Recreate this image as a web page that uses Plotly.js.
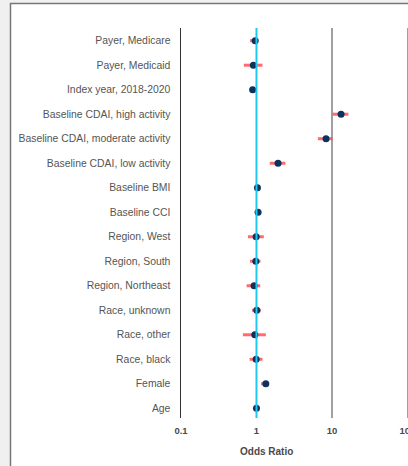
<!DOCTYPE html>
<html><head><meta charset="utf-8">
<script src="https://cdn.plot.ly/plotly-3.0.1.min.js"></script>
<style>html,body{margin:0;padding:0;background:#f0f0f0;overflow:hidden;}#chart{width:420px;height:466px;}</style>
</head><body><div id="chart"></div>
<script>
const labels = ["Payer, Medicare","Payer, Medicaid","Index year, 2018-2020","Baseline CDAI, high activity","Baseline CDAI, moderate activity","Baseline CDAI, low activity","Baseline BMI","Baseline CCI","Region, West","Region, South","Region, Northeast","Race, unknown","Race, other","Race, black","Female","Age"];
const oddsRatio = [0.96,0.91,0.89,13.2,8.35,1.93,1.03,1.05,0.99,0.98,0.93,1.01,0.95,0.99,1.33,1.00];
const ciLow  = [0.82,0.68,0.82,10.2,6.5,1.50,1.01,1.03,0.77,0.82,0.74,0.87,0.66,0.81,1.15,0.99];
const ciHigh = [1.06,1.20,0.93,16.5,10.2,2.42,1.05,1.07,1.25,1.13,1.12,1.14,1.33,1.20,1.41,1.01];
const tickVals = [0.1,1,10,100];
const tickText = ["0.1","1","10","100"];

const plus = oddsRatio.map((v,i)=>ciHigh[i]-v);
const minus = oddsRatio.map((v,i)=>v-ciLow[i]);

const trace = {
  type:'scatter', mode:'markers',
  x: oddsRatio, y: labels,
  marker:{color:'#0c335f', size:7},
  error_x:{type:'data', symmetric:false, array:plus, arrayminus:minus,
           color:'rgba(255,80,80,0.85)', thickness:3, width:0},
  hoverinfo:'x+y'
};

const plotW = 234;
const layout = {
  width:420, height:466,
  margin:{l:181, r:5, t:28, b:48},
  paper_bgcolor:'#f0f0f0', plot_bgcolor:'rgba(0,0,0,0)',
  showlegend:false,
  font:{family:'Arial, Liberation Sans, sans-serif'},
  xaxis:{type:'log', range:[-1, 2.1], tickvals:tickVals, ticktext:tickText,
         showgrid:true, gridcolor:'#a0a0a0', gridwidth:1.5, zeroline:false,
         showline:false, ticks:'outside', ticklen:4, tickcolor:'rgba(0,0,0,0)',
         tickfont:{size:9.5, color:'#4a4a4a', weight:'bold'}},
  yaxis:{type:'category', range:[15.396,-0.518], showgrid:false, zeroline:false,
         showline:true, linecolor:'#333', linewidth:1.5,
         ticks:'outside', ticklen:7, tickcolor:'rgba(0,0,0,0)',
         tickfont:{size:10.4, color:'#555'}},
  annotations:[
    {text:'<b>Odds Ratio</b>', xref:'paper', yref:'paper', x:(266-181)/plotW, y:-(452-418)/390,
     xanchor:'center', yanchor:'middle', showarrow:false, font:{size:10, color:'#4a4a4a'}}
  ],
  shapes:[
    {type:'rect', xref:'paper', yref:'paper', x0:-(181-10.5)/plotW, x1:1.2, y0:-0.3, y1:(418-3.5)/390,
     fillcolor:'#ffffff', line:{color:'#777', width:1.5}, layer:'below'},
    {type:'line', xref:'x', yref:'paper', x0:1, x1:1, y0:0, y1:1,
     line:{color:'#1ec8f0', width:2}, layer:'above'}
  ]
};
Plotly.newPlot('chart',[trace],layout,{displayModeBar:false, staticPlot:true});
</script></body></html>
